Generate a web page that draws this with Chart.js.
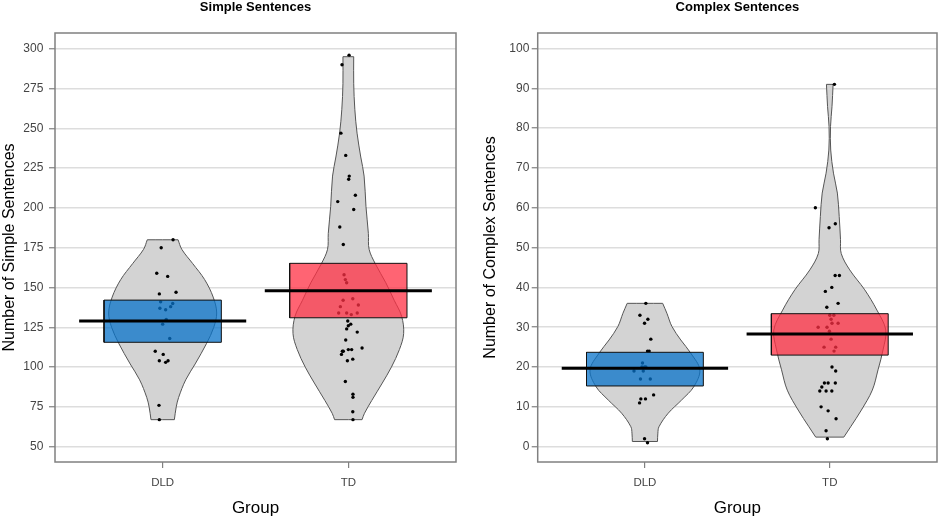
<!DOCTYPE html>
<html>
<head>
<meta charset="utf-8">
<script src="https://cdn.jsdelivr.net/npm/chart.js@4.4.1/dist/chart.umd.min.js"></script>
<style>
  html, body { margin: 0; padding: 0; background: #fff; }
  #wrap { position: relative; width: 941px; height: 519px; }
  .panel { position: absolute; top: 0; height: 519px; }
  #left { left: 0; width: 470px; }
  #right { left: 470px; width: 471px; }
</style>
</head>
<body>
<div id="wrap">
  <div class="panel" id="left"><canvas id="simple"></canvas></div>
  <div class="panel" id="right"><canvas id="complex"></canvas></div>
</div>
<script>
const groups = ['DLD', 'TD'];

// Simple sentences: raw scores and horizontal jitter
const simpleDLD = [180, 175, 159, 157, 146, 147, 141, 140, 138, 137, 136, 130, 127, 118, 110, 108, 104, 103, 104, 76, 67];
const simpleDLDJitter = [0.056, -0.008, -0.032, 0.027, -0.018, 0.072, -0.011, 0.054, 0.043, -0.015, 0.016, 0.019, 0, 0.038, -0.04, 0.003, -0.018, 0.016, 0.029, -0.02, -0.018];
const simpleTD = [296, 290, 247, 233, 220, 218, 208, 204, 199, 188, 177, 158, 155, 153, 142, 143, 139, 138, 134, 134, 133, 134, 129, 127, 126, 124, 122, 117, 112, 111, 111, 110, 110, 108, 104, 105, 91, 83, 81, 72, 67];
const simpleTDJitter = [0.004, -0.034, -0.04, -0.014, 0.005, 0.002, 0.038, -0.057, 0.029, -0.046, -0.027, -0.023, -0.016, -0.009, -0.028, 0.024, 0.054, -0.043, -0.052, -0.009, 0.016, 0.048, -0.003, 0.013, 0, -0.009, 0.048, -0.014, 0.074, 0, 0.018, -0.027, -0.032, -0.037, -0.005, 0.024, -0.016, 0.025, 0.025, 0.024, 0.025];
const simpleMeans = [129, 148];
const simpleLower = [115.6, 131];
const simpleUpper = [142.1, 165.2];
// violin outline: levels and half widths (in group units)
const simpleDLDLevels = [67, 75, 81, 92, 102, 115, 125, 134, 144, 155, 165, 174, 180];
const simpleDLDWidths = [0.063, 0.073, 0.086, 0.124, 0.175, 0.237, 0.275, 0.291, 0.272, 0.226, 0.162, 0.103, 0.083];
const simpleTDLevels = [67, 71, 79, 90, 100, 111, 121, 132, 142, 153, 165, 174, 184, 201, 220, 232, 247, 262, 278, 295];
const simpleTDWidths = [0.074, 0.087, 0.126, 0.183, 0.232, 0.275, 0.298, 0.287, 0.247, 0.202, 0.145, 0.112, 0.108, 0.095, 0.085, 0.067, 0.047, 0.035, 0.029, 0.029];

// Complex sentences
const complexDLD = [36, 33, 32, 31, 27, 24, 24, 21, 20, 20, 20, 19, 19, 17, 17, 13, 12, 12, 11, 2, 1];
const complexDLDJitter = [0.005, -0.027, 0.016, -0.002, 0.032, 0.014, 0.023, -0.013, -0.016, -0.002, 0.005, -0.059, -0.009, -0.024, 0.029, 0.047, -0.022, 0.003, -0.029, -0.002, 0.014];
const complexTD = [91, 60, 55, 56, 43, 43, 40, 39, 35, 36, 33, 33, 32, 31, 31, 30, 30, 29, 27, 25, 25, 24, 20, 19, 16, 16, 16, 15, 14, 14, 14, 10, 9, 7, 4, 2];
const complexTDJitter = [0.025, -0.078, -0.004, 0.03, 0.029, 0.052, 0.011, -0.024, -0.016, 0.045, 0, 0.022, 0.007, 0.012, 0.045, -0.063, -0.015, -0.002, 0.007, -0.031, 0.032, 0.023, 0.012, 0.032, -0.029, -0.009, 0.03, -0.043, -0.054, -0.02, 0.011, -0.047, -0.009, 0.034, -0.02, -0.013];
const complexMeans = [19.7, 28.3];
const complexLower = [15.25, 23.0];
const complexUpper = [23.7, 33.4];
const complexDLDLevels = [1.3, 3.4, 5, 8.4, 11.7, 15.1, 19.3, 23.5, 26.8, 30.2, 33.5, 36];
const complexDLDWidths = [0.068, 0.07, 0.076, 0.126, 0.198, 0.265, 0.297, 0.248, 0.194, 0.146, 0.119, 0.096];
const complexTDLevels = [2.4, 5, 9.2, 14.2, 19.3, 24.3, 29.3, 34.3, 39.4, 44.4, 48.5, 52, 57.8, 63.7, 68.7, 74.5, 80.4, 85.4, 91];
const complexTDWidths = [0.076, 0.113, 0.171, 0.23, 0.261, 0.288, 0.303, 0.255, 0.189, 0.108, 0.062, 0.058, 0.051, 0.041, 0.02, 0.005, 0.004, 0.012, 0.018];

const BOX_HALF = 0.316;
const MEAN_HALF = 0.45;
const boxColors = ['rgba(8,115,202,0.75)', 'rgba(255,48,68,0.75)'];

Chart.defaults.font.family = '"Liberation Sans", Arial, sans-serif';
Chart.defaults.color = '#444';

function violinOutline(levels, widths, center) {
  const n = levels.length - 1;
  const right = levels.map((v, i) => ({ x: center + widths[i], y: v }));
  const left = levels.map((v, i) => ({ x: center - widths[i], y: v })).reverse();
  // corners are repeated so the flat ends stay straight
  return [right[0], ...right, right[n], left[0], ...left, left[n], right[0], right[0]];
}

function boxOutline(lo, hi, center) {
  return [
    { x: center - BOX_HALF, y: lo }, { x: center + BOX_HALF, y: lo },
    { x: center + BOX_HALF, y: hi }, { x: center - BOX_HALF, y: hi },
    { x: center - BOX_HALF, y: lo }
  ];
}

const framePlugin = {
  id: 'frame',
  afterDraw(chart) {
    const a = chart.chartArea;
    const ctx = chart.ctx;
    ctx.save();
    ctx.strokeStyle = '#808080';
    ctx.lineWidth = 1.5;
    ctx.strokeRect(a.left, a.top, a.right - a.left, a.bottom - a.top);
    ctx.restore();
  }
};

function makePanel(id, cfg) {
  const datasets = [];
  [0, 1].forEach(g => {
    const c = g + 1;
    datasets.push({
      data: violinOutline(cfg.levels[g], cfg.widths[g], c),
      order: 4, fill: 'shape', backgroundColor: '#d3d3d3',
      borderColor: '#555', borderWidth: 1, tension: 0.35, pointRadius: 0
    });
    datasets.push({
      data: cfg.values[g].map((v, i) => ({ x: c + cfg.jitter[g][i], y: v })),
      order: 3, showLine: false, pointRadius: 1.7, pointBackgroundColor: '#000',
      pointBorderWidth: 0
    });
    datasets.push({
      data: boxOutline(cfg.lower[g], cfg.upper[g], c),
      order: 2, fill: 'shape', backgroundColor: boxColors[g],
      borderColor: '#111', borderWidth: 1, tension: 0, pointRadius: 0
    });
    datasets.push({
      data: [{ x: c - MEAN_HALF, y: cfg.means[g] }, { x: c + MEAN_HALF, y: cfg.means[g] }],
      order: 1, borderColor: '#000', borderWidth: 3, borderCapStyle: 'butt', pointRadius: 0
    });
  });

  return new Chart(document.getElementById(id), {
    type: 'line',
    data: { datasets },
    plugins: [framePlugin],
    options: {
      responsive: true,
      maintainAspectRatio: false,
      animation: false,
      events: [],
      layout: { padding: { left: cfg.padLeft, right: cfg.padRight, top: 0, bottom: 0 } },
      plugins: {
        legend: { display: false },
        tooltip: { enabled: false },
        title: {
          display: true, text: cfg.title, fullSize: false, color: '#000',
          font: { size: 13, weight: 'bold' }, padding: { top: 0, bottom: 17.4 }
        }
      },
      scales: {
        x: {
          type: 'linear', min: 0.42, max: 2.58,
          afterBuildTicks: s => { s.ticks = [{ value: 1 }, { value: 2 }]; },
          afterFit: s => { s.height = 57; },
          ticks: { callback: v => groups[Math.round(v) - 1], padding: 8, font: { size: 11.5 }, color: '#444' },
          grid: { drawOnChartArea: false, drawTicks: true, tickLength: 6, color: '#808080', lineWidth: 1.2 },
          border: { display: false },
          title: { display: true, text: 'Group', color: '#000', font: { size: 17 }, padding: { top: 0, bottom: 0 } }
        },
        y: {
          type: 'linear', min: cfg.yMin, max: cfg.yMax,
          afterFit: s => { s.width = cfg.yWidth; },
          ticks: { stepSize: cfg.step, includeBounds: false, padding: cfg.tickPad, font: { size: 12 }, color: '#444' },
          grid: { drawTicks: true, tickLength: 6, tickColor: '#808080', tickWidth: 1.2, color: '#dddddd', lineWidth: 1.5 },
          border: { display: false },
          title: { display: true, text: cfg.yTitle, color: '#000', font: { size: 16 }, padding: { top: 0, bottom: 0 } }
        }
      }
    }
  });
}

makePanel('simple', {
  title: 'Simple Sentences', yTitle: 'Number of Simple Sentences',
  yMin: 40.4, yMax: 309.9, step: 25, yWidth: 55, tickPad: 5.7, padLeft: 0, padRight: 14,
  values: [simpleDLD, simpleTD], jitter: [simpleDLDJitter, simpleTDJitter],
  levels: [simpleDLDLevels, simpleTDLevels], widths: [simpleDLDWidths, simpleTDWidths],
  lower: simpleLower, upper: simpleUpper, means: simpleMeans
});

makePanel('complex', {
  title: 'Complex Sentences', yTitle: 'Number of Complex Sentences',
  yMin: -3.85, yMax: 103.9, step: 10, yWidth: 57, tickPad: 2.4, padLeft: 10.7, padRight: 2.7,
  values: [complexDLD, complexTD], jitter: [complexDLDJitter, complexTDJitter],
  levels: [complexDLDLevels, complexTDLevels], widths: [complexDLDWidths, complexTDWidths],
  lower: complexLower, upper: complexUpper, means: complexMeans
});
</script>
</body>
</html>
